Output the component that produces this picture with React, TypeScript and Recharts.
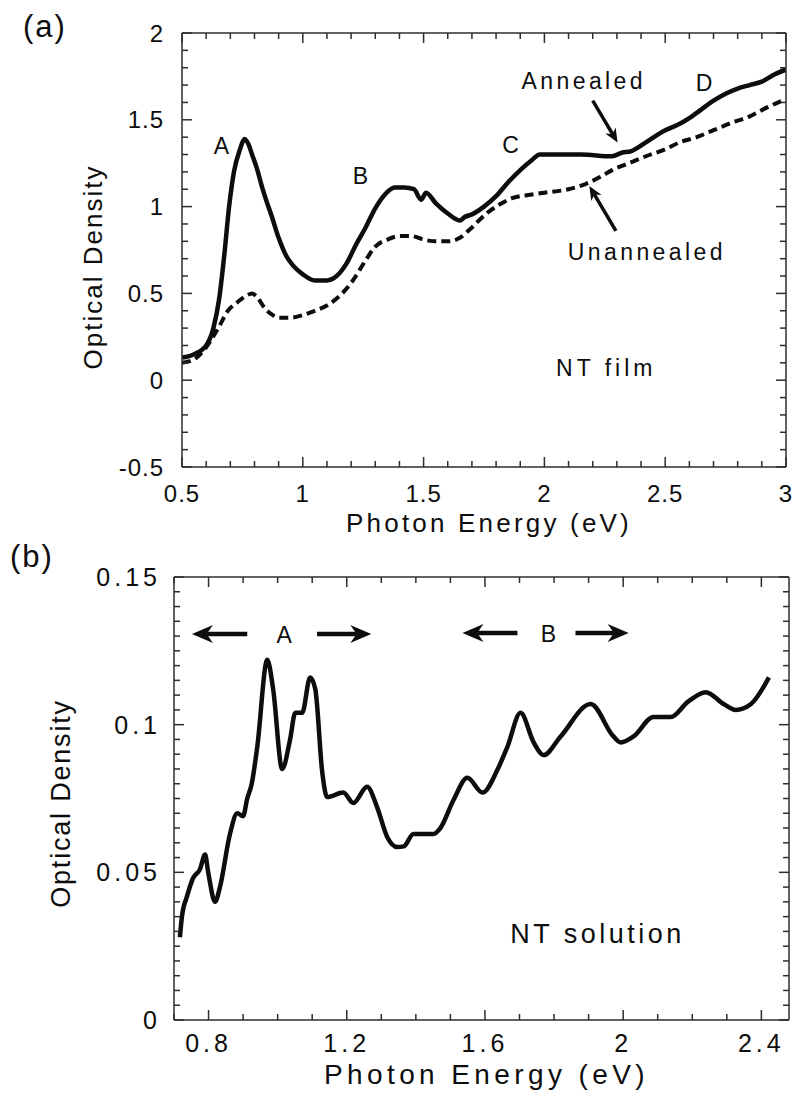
import { LineChart, Line, XAxis, YAxis, ReferenceDot, ReferenceLine, Label } from 'recharts'

const FONT = '"Liberation Sans", Arial, Helvetica, sans-serif'
const INK = '#0d0d0d'
const FRAME = '#2e2e2e'

// (a) NT film — annealed (solid)
const annealedE = [0.5, 0.55, 0.6, 0.63, 0.655, 0.675, 0.695, 0.715, 0.74, 0.76, 0.775, 0.79, 0.81, 0.83, 0.85, 0.87, 0.9, 0.93, 0.96, 1.0, 1.05, 1.1, 1.14, 1.18, 1.22, 1.26, 1.3, 1.34, 1.38, 1.42, 1.46, 1.49, 1.51, 1.55, 1.6, 1.65, 1.67, 1.7, 1.75, 1.8, 1.85, 1.9, 1.95, 1.98, 2.05, 2.15, 2.28, 2.32, 2.36, 2.42, 2.5, 2.55, 2.6, 2.65, 2.7, 2.75, 2.8, 2.85, 2.9, 2.95, 3.0]
const annealedOD = [0.13, 0.15, 0.2, 0.3, 0.48, 0.72, 1.0, 1.2, 1.33, 1.39, 1.36, 1.3, 1.22, 1.12, 1.03, 0.95, 0.82, 0.72, 0.66, 0.61, 0.575, 0.575, 0.6, 0.67, 0.78, 0.88, 0.99, 1.07, 1.11, 1.11, 1.1, 1.04, 1.08, 1.02, 0.96, 0.92, 0.94, 0.955, 1.0, 1.06, 1.14, 1.21, 1.27, 1.3, 1.3, 1.3, 1.29, 1.31, 1.32, 1.37, 1.44, 1.47, 1.51, 1.56, 1.61, 1.65, 1.68, 1.7, 1.72, 1.76, 1.79]

// (a) NT film — unannealed (dashed)
const unannealedE = [0.5, 0.55, 0.6, 0.65, 0.69, 0.73, 0.77, 0.79, 0.81, 0.84, 0.87, 0.9, 0.95, 1.0, 1.05, 1.1, 1.14, 1.2, 1.26, 1.3, 1.35, 1.4, 1.45, 1.5, 1.55, 1.6, 1.65, 1.7, 1.76, 1.8, 1.87, 1.95, 2.0, 2.1, 2.17, 2.23, 2.28, 2.35, 2.42, 2.5, 2.56, 2.63, 2.7, 2.77, 2.85, 2.92, 3.0]
const unannealedOD = [0.1, 0.12, 0.19, 0.3, 0.4, 0.45, 0.49, 0.5, 0.48, 0.42, 0.38, 0.36, 0.36, 0.375, 0.4, 0.43, 0.47, 0.56, 0.69, 0.77, 0.81, 0.83, 0.83, 0.81, 0.8, 0.8, 0.82, 0.88, 0.96, 1.0, 1.05, 1.07, 1.08, 1.1, 1.13, 1.17, 1.21, 1.25, 1.29, 1.33, 1.37, 1.4, 1.44, 1.48, 1.52, 1.57, 1.62]

// (b) NT solution
const solutionE = [0.717, 0.723, 0.738, 0.755, 0.775, 0.79, 0.799, 0.819, 0.833, 0.862, 0.883, 0.9, 0.912, 0.925, 0.941, 0.97, 0.987, 1.013, 1.036, 1.051, 1.071, 1.094, 1.109, 1.129, 1.143, 1.19, 1.219, 1.259, 1.288, 1.317, 1.346, 1.365, 1.393, 1.451, 1.471, 1.509, 1.549, 1.593, 1.636, 1.665, 1.703, 1.741, 1.77, 1.819, 1.906, 1.972, 1.993, 2.03, 2.088, 2.138, 2.187, 2.239, 2.291, 2.326, 2.37, 2.422]
const solutionOD = [0.028, 0.035, 0.042, 0.048, 0.051, 0.056, 0.05, 0.04, 0.045, 0.063, 0.07, 0.069, 0.075, 0.08, 0.0925, 0.122, 0.112, 0.085, 0.095, 0.104, 0.104, 0.116, 0.112, 0.084, 0.0755, 0.077, 0.0735, 0.079, 0.072, 0.062, 0.0586, 0.0588, 0.063, 0.063, 0.065, 0.0745, 0.082, 0.077, 0.0847, 0.0925, 0.104, 0.094, 0.0897, 0.096, 0.107, 0.096, 0.094, 0.096, 0.1026, 0.1026, 0.1077, 0.111, 0.107, 0.105, 0.107, 0.116]

// tick labels
const filmXMajor = [0.5, 1, 1.5, 2, 2.5, 3]
const filmYMajor = [-0.5, 0, 0.5, 1, 1.5, 2]
const solXMajor = [0.8, 1.2, 1.6, 2, 2.4]
const solYMajor = [0, 0.05, 0.1, 0.15]

// annotations (data coordinates)
const filmLetters = [
  { text: 'A', e: 0.663, od: 1.35 },
  { text: 'B', e: 1.238, od: 1.177 },
  { text: 'C', e: 1.86, od: 1.359 },
  { text: 'D', e: 2.661, od: 1.711 },
]
const filmWords = [
  { text: 'Annealed', e: 2.163, od: 1.725 },
  { text: 'Unannealed', e: 2.424, od: 0.739 },
]
const filmArrows = [
  { from: [2.2, 1.61], to: [2.303, 1.369] },
  { from: [2.296, 0.86], to: [2.186, 1.119] },
]
const solLetters = [
  { text: 'A', e: 1.019, od: 0.1304 },
  { text: 'B', e: 1.784, od: 0.1307 },
]
const solArrows = [
  { from: [0.912, 0.1307], to: [0.752, 0.1307] },
  { from: [1.114, 0.1307], to: [1.271, 0.1307] },
  { from: [1.694, 0.131], to: [1.535, 0.131] },
  { from: [1.862, 0.131], to: [2.016, 0.131] },
]

const toPoints = (xs: number[], ys: number[]) => xs.map((e, i) => ({ e, od: ys[i] }))
const annealed = toPoints(annealedE, annealedOD)
const unannealed = toPoints(unannealedE, unannealedOD)
const solution = toPoints(solutionE, solutionOD)

const steps = (from: number, to: number, step: number) => {
  const n = Math.round((to - from) / step)
  return Array.from({ length: n + 1 }, (_, i) => +(from + i * step).toFixed(4))
}
const filmXTicks = steps(0.5, 3, 0.1)
const filmYTicks = steps(-0.5, 2, 0.1)
const solXTicks = steps(0.7, 2.4, 0.1)
const solYTicks = steps(0, 0.15, 0.005)

type Side = 'left' | 'right' | 'top' | 'bottom'
interface LabelStyle { size: number; spacing: number; gap: number }

// inward tick marks (long for major, short for minor) + outside label for majors
const makeTick = (side: Side, majors: number[], label?: LabelStyle) => (props: any) => {
  const x = Number(props.x)
  const y = Number(props.y)
  const v = Number(props.payload.value)
  const major = majors.some((m) => Math.abs(m - v) < 1e-6)
  const len = major ? 10 : 6
  const dx = side === 'left' ? len : side === 'right' ? -len : 0
  const dy = side === 'bottom' ? -len : side === 'top' ? len : 0
  const txt = { fontFamily: FONT, fill: INK, fontSize: label?.size, letterSpacing: label?.spacing }
  return (
    <g>
      <path d={`M${x},${y}L${x + dx},${y + dy}`} stroke={FRAME} strokeWidth={1.5} fill="none" />
      {major && label && side === 'left' && (
        <text x={x - label.gap} y={y} dy="0.36em" textAnchor="end" style={txt}>{String(v)}</text>
      )}
      {major && label && side === 'bottom' && (
        <text x={x} y={y + label.gap} textAnchor="middle" style={txt}>{String(v)}</text>
      )}
    </g>
  )
}

const arrowShape = (head: number, half: number, width: number) => (p: any) => {
  const { x1, y1, x2, y2 } = p
  const ang = Math.atan2(y2 - y1, x2 - x1)
  const ux = Math.cos(ang)
  const uy = Math.sin(ang)
  const bx = x2 - ux * head
  const by = y2 - uy * head
  const nx = -uy
  const ny = ux
  const notch = head * 0.7
  const pts = [
    [x2, y2],
    [bx + nx * half, by + ny * half],
    [x2 - ux * notch, y2 - uy * notch],
    [bx - nx * half, by - ny * half],
  ]
  return (
    <g>
      <line x1={x1} y1={y1} x2={x2 - ux * notch} y2={y2 - uy * notch} stroke={INK} strokeWidth={width} />
      <polygon points={pts.map((q) => q.join(',')).join(' ')} fill={INK} />
    </g>
  )
}

const textShape = (text: string, size: number, spacing: number) => (p: any) => (
  <text x={p.cx} y={p.cy} dy="0.36em" textAnchor="middle"
    style={{ fontFamily: FONT, fontSize: size, letterSpacing: spacing, fill: INK }}>
    {text}
  </text>
)

const axisLine = { stroke: FRAME, strokeWidth: 1.5 }
const hiddenAxis = { tickLine: false, tickSize: 0, tickMargin: 0, interval: 0 as const, allowDataOverflow: true, axisLine }

function FilmChart() {
  return (
    <LineChart width={795} height={545} margin={{ top: 32, right: 8, bottom: 8, left: 82 }}>
      <XAxis xAxisId="b" type="number" dataKey="e" domain={[0.5, 3]} ticks={filmXTicks} height={70}
        tick={makeTick('bottom', filmXMajor, { size: 24, spacing: 1, gap: 35 })} {...hiddenAxis}>
        <Label content={(p: any) => (
          <text x={p.viewBox.x + p.viewBox.width / 2 + 5} y={p.viewBox.y + 65} textAnchor="middle"
            style={{ fontFamily: FONT, fontSize: 26, letterSpacing: 3.2, fill: INK }}>Photon Energy (eV)</text>
        )} />
      </XAxis>
      <XAxis xAxisId="t" orientation="top" type="number" dataKey="e" domain={[0.5, 3]} ticks={filmXTicks} height={1}
        tick={makeTick('top', filmXMajor)} {...hiddenAxis} />
      <YAxis yAxisId="l" type="number" domain={[-0.5, 2]} ticks={filmYTicks} width={100}
        tick={makeTick('left', filmYMajor, { size: 24, spacing: 1, gap: 18 })} {...hiddenAxis}>
        <Label content={(p: any) => {
          const cx = p.viewBox.x + 11
          const cy = p.viewBox.y + p.viewBox.height / 2 + 17
          return (
            <text x={cx} y={cy} dy="0.36em" textAnchor="middle" transform={`rotate(-90, ${cx}, ${cy})`}
              style={{ fontFamily: FONT, fontSize: 26, letterSpacing: 2, fill: INK }}>Optical Density</text>
          )
        }} />
      </YAxis>
      <YAxis yAxisId="r" orientation="right" type="number" domain={[-0.5, 2]} ticks={filmYTicks} width={1}
        tick={makeTick('right', filmYMajor)} {...hiddenAxis} />

      <Line xAxisId="b" yAxisId="l" data={unannealed} dataKey="od" type="monotone" stroke={INK}
        strokeWidth={4} strokeDasharray="9 5" dot={false} isAnimationActive={false} />
      <Line xAxisId="b" yAxisId="l" data={annealed} dataKey="od" type="monotone" stroke={INK}
        strokeWidth={4.5} dot={false} isAnimationActive={false} />

      {filmLetters.map((n) => (
        <ReferenceDot key={n.text} xAxisId="b" yAxisId="l" x={n.e} y={n.od} r={0} ifOverflow="visible"
          shape={textShape(n.text, 23, 0)} />
      ))}
      {filmWords.map((n) => (
        <ReferenceDot key={n.text} xAxisId="b" yAxisId="l" x={n.e} y={n.od} r={0} ifOverflow="visible"
          shape={textShape(n.text, 23, 3.4)} />
      ))}
      <ReferenceDot xAxisId="b" yAxisId="l" x={2.256} y={0.072} r={0} ifOverflow="visible"
        shape={textShape('NT film', 23, 4)} />
      {filmArrows.map((a, i) => (
        <ReferenceLine key={i} xAxisId="b" yAxisId="l" ifOverflow="visible"
          segment={[{ x: a.from[0], y: a.from[1] }, { x: a.to[0], y: a.to[1] }]}
          shape={arrowShape(14, 6, 3.5)} />
      ))}
    </LineChart>
  )
}

function SolutionChart() {
  return (
    <LineChart width={795} height={559} margin={{ top: 36, right: 5, bottom: 9, left: 74 }}>
      <XAxis xAxisId="b" type="number" dataKey="e" domain={[0.7, 2.48]} ticks={solXTicks} height={70}
        tick={makeTick('bottom', solXMajor, { size: 25, spacing: 4, gap: 32 })} {...hiddenAxis}>
        <Label content={(p: any) => (
          <text x={p.viewBox.x + p.viewBox.width / 2 + 5} y={p.viewBox.y + 64} textAnchor="middle"
            style={{ fontFamily: FONT, fontSize: 28, letterSpacing: 4.4, fill: INK }}>Photon Energy (eV)</text>
        )} />
      </XAxis>
      <XAxis xAxisId="t" orientation="top" type="number" dataKey="e" domain={[0.7, 2.48]} ticks={solXTicks} height={1}
        tick={makeTick('top', solXMajor)} {...hiddenAxis} />
      <YAxis yAxisId="l" type="number" domain={[0, 0.15]} ticks={solYTicks} width={100}
        tick={makeTick('left', solYMajor, { size: 25, spacing: 4, gap: 13 })} {...hiddenAxis}>
        <Label content={(p: any) => {
          const cx = p.viewBox.x - 14
          const cy = p.viewBox.y + p.viewBox.height / 2 + 5
          return (
            <text x={cx} y={cy} dy="0.36em" textAnchor="middle" transform={`rotate(-90, ${cx}, ${cy})`}
              style={{ fontFamily: FONT, fontSize: 27, letterSpacing: 1.8, fill: INK }}>Optical Density</text>
          )
        }} />
      </YAxis>
      <YAxis yAxisId="r" orientation="right" type="number" domain={[0, 0.15]} ticks={solYTicks} width={1}
        tick={makeTick('right', solYMajor)} {...hiddenAxis} />

      <Line xAxisId="b" yAxisId="l" data={solution} dataKey="od" type="monotone" stroke={INK}
        strokeWidth={4.5} dot={false} isAnimationActive={false} />

      {solLetters.map((n) => (
        <ReferenceDot key={n.text} xAxisId="b" yAxisId="l" x={n.e} y={n.od} r={0} ifOverflow="visible"
          shape={textShape(n.text, 23, 0)} />
      ))}
      <ReferenceDot xAxisId="b" yAxisId="l" x={1.926} y={0.0293} r={0} ifOverflow="visible"
        shape={textShape('NT solution', 27, 3.5)} />
      {solArrows.map((a, i) => (
        <ReferenceLine key={i} xAxisId="b" yAxisId="l" ifOverflow="visible"
          segment={[{ x: a.from[0], y: a.from[1] }, { x: a.to[0], y: a.to[1] }]}
          shape={arrowShape(21, 9, 4.5)} />
      ))}
    </LineChart>
  )
}

export default function App() {
  const panel = { fontFamily: FONT, fontSize: 31, letterSpacing: 2, fill: INK }
  return (
    <div style={{ position: 'absolute', left: 0, top: 0, width: 795, height: 1099, background: '#fff' }}>
      <div style={{ position: 'absolute', left: 0, top: 0 }}>
        <FilmChart />
      </div>
      <div style={{ position: 'absolute', left: 0, top: 540 }}>
        <SolutionChart />
      </div>
      <svg width={795} height={1099} style={{ position: 'absolute', left: 0, top: 0, pointerEvents: 'none' }}>
        <text x={45} y={37} textAnchor="middle" style={panel}>(a)</text>
        <text x={32} y={567} textAnchor="middle" style={panel}>(b)</text>
      </svg>
    </div>
  )
}
